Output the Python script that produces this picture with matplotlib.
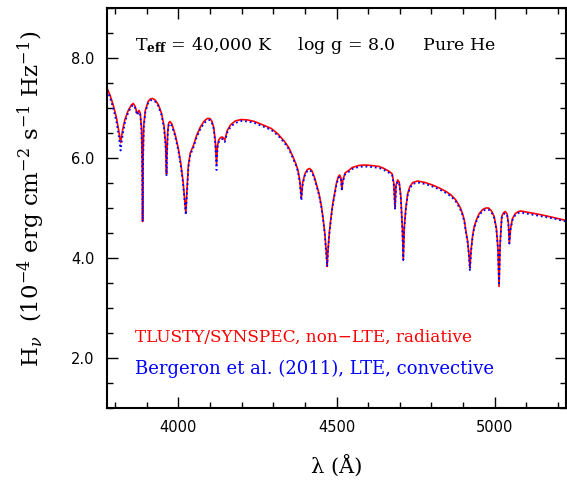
import matplotlib
matplotlib.use("Agg")
import matplotlib.pyplot as plt
from matplotlib.ticker import MultipleLocator

plt.rcParams['mathtext.fontset'] = 'dejavuserif'

wave = [3775, 3785, 3795, 3805, 3812, 3818, 3824, 3832, 3842, 3852, 3858, 3864, 3870, 3876, 3880, 3884, 3886, 3887.5, 3889, 3891,
        3896, 3905, 3912, 3919, 3927, 3937, 3947, 3955, 3960, 3963, 3965, 3967, 3970, 3974, 3980, 3990, 4000, 4008, 4015, 4020,
        4024, 4028, 4032, 4038, 4042, 4048, 4058, 4070, 4082, 4092, 4100, 4106, 4112, 4117, 4121, 4124, 4128, 4134, 4140, 4147,
        4155, 4165, 4180, 4199, 4220, 4241, 4268, 4294, 4315, 4336, 4350, 4362, 4372, 4378, 4384, 4389, 4393, 4400, 4408, 4415,
        4422, 4430, 4436, 4445, 4452, 4457, 4463, 4468, 4470.5, 4473, 4478, 4483, 4488, 4494, 4500, 4506, 4510, 4514, 4517, 4520,
        4527, 4536, 4550, 4570, 4590, 4610, 4635, 4650, 4667, 4676, 4681, 4685, 4688, 4693, 4698, 4703, 4708, 4711, 4714, 4719,
        4725, 4732, 4741, 4756, 4780, 4803, 4825, 4846, 4862, 4877, 4890, 4898, 4904, 4909, 4914, 4918, 4921.5, 4925, 4930, 4935,
        4943, 4951, 4962, 4972, 4980, 4990, 4998, 5005, 5010, 5013.5, 5017, 5022, 5027, 5033, 5039, 5043, 5046, 5050, 5056, 5065,
        5075, 5082, 5100, 5125, 5150, 5185, 5225]

flux_tlusty = [7.40, 7.25, 7.05, 6.80, 6.55, 6.31, 6.55, 6.78, 6.95, 7.06, 7.09, 7.03, 6.89, 6.95, 6.90, 6.60, 6.00, 4.73, 6.00, 6.65,
               6.95, 7.13, 7.18, 7.19, 7.16, 7.07, 6.90, 6.65, 6.30, 5.68, 6.20, 6.55, 6.70, 6.73, 6.68, 6.48, 6.20, 5.90, 5.55, 5.20,
               4.90, 5.40, 5.85, 6.10, 6.16, 6.25, 6.45, 6.62, 6.74, 6.79, 6.79, 6.74, 6.62, 6.35, 5.88, 6.25, 6.36, 6.41, 6.42, 6.36,
               6.55, 6.66, 6.74, 6.77, 6.76, 6.73, 6.66, 6.59, 6.48, 6.33, 6.20, 6.03, 5.88, 5.76, 5.55, 5.20, 5.50, 5.68, 5.77, 5.79,
               5.75, 5.62, 5.49, 5.28, 5.05, 4.83, 4.50, 4.10, 3.83, 4.15, 4.55, 4.83, 5.08, 5.29, 5.50, 5.63, 5.66, 5.60, 5.37, 5.55,
               5.70, 5.74, 5.81, 5.85, 5.86, 5.85, 5.83, 5.79, 5.73, 5.68, 5.50, 4.99, 5.45, 5.56, 5.52, 5.25, 4.60, 3.96, 4.60, 5.00,
               5.29, 5.43, 5.51, 5.54, 5.51, 5.46, 5.40, 5.33, 5.26, 5.16, 5.02, 4.89, 4.75, 4.53, 4.35, 4.10, 3.80, 4.15, 4.45, 4.63,
               4.78, 4.89, 4.97, 5.00, 5.00, 4.94, 4.83, 4.60, 4.20, 3.43, 4.30, 4.83, 4.90, 4.93, 4.88, 4.70, 4.29, 4.60, 4.79, 4.89,
               4.93, 4.94, 4.92, 4.89, 4.86, 4.81, 4.75]

flux_bergeron = [7.36, 7.20, 6.99, 6.72, 6.45, 6.15, 6.45, 6.72, 6.91, 7.03, 7.06, 7.00, 6.86, 6.92, 6.87, 6.55, 5.95, 4.73, 5.95, 6.60,
                 6.91, 7.10, 7.15, 7.16, 7.13, 7.04, 6.86, 6.60, 6.25, 5.64, 6.15, 6.50, 6.66, 6.69, 6.64, 6.44, 6.16, 5.85, 5.50, 5.15,
                 4.86, 5.35, 5.80, 6.06, 6.12, 6.21, 6.41, 6.58, 6.70, 6.75, 6.76, 6.71, 6.58, 6.30, 5.76, 6.20, 6.32, 6.37, 6.38, 6.32,
                 6.51, 6.62, 6.70, 6.74, 6.73, 6.70, 6.63, 6.56, 6.45, 6.30, 6.17, 6.00, 5.85, 5.73, 5.51, 5.15, 5.46, 5.65, 5.74, 5.76,
                 5.72, 5.59, 5.46, 5.25, 5.02, 4.80, 4.47, 4.06, 3.83, 4.12, 4.52, 4.80, 5.05, 5.26, 5.47, 5.60, 5.63, 5.57, 5.34, 5.52,
                 5.67, 5.71, 5.78, 5.82, 5.83, 5.82, 5.80, 5.76, 5.70, 5.65, 5.46, 4.97, 5.42, 5.53, 5.49, 5.22, 4.57, 3.96, 4.57, 4.97,
                 5.26, 5.40, 5.48, 5.51, 5.48, 5.43, 5.37, 5.30, 5.23, 5.13, 4.99, 4.86, 4.72, 4.50, 4.32, 4.07, 3.74, 4.12, 4.42, 4.60,
                 4.75, 4.86, 4.94, 4.97, 4.97, 4.91, 4.80, 4.57, 4.17, 3.45, 4.27, 4.80, 4.87, 4.90, 4.85, 4.67, 4.29, 4.57, 4.76, 4.86,
                 4.90, 4.91, 4.89, 4.86, 4.83, 4.79, 4.73]

label_tlusty = "TLUSTY/SYNSPEC, non\u2212LTE, radiative"
label_bergeron = "Bergeron et al. (2011), LTE, convective"
title_text = r"T$_{\mathbf{eff}}$ = 40,000 K     log g = 8.0     Pure He"

fig = plt.figure(figsize=(5.67, 4.84), dpi=100)
ax = fig.add_axes([107/567, 76/484, 459/567, 400/484])

ax.plot(wave, flux_tlusty, color='red', lw=1.2, solid_joinstyle='round')
ax.plot(wave, flux_bergeron, color='blue', lw=1.3, linestyle=(0, (1, 1.6)))

ax.set_xlim(3775, 5225)
ax.set_ylim(1.0, 9.0)
ax.xaxis.set_major_locator(MultipleLocator(500))
ax.xaxis.set_minor_locator(MultipleLocator(100))
ax.yaxis.set_major_locator(MultipleLocator(2.0))
ax.yaxis.set_minor_locator(MultipleLocator(0.5))
ax.yaxis.set_major_formatter(matplotlib.ticker.FormatStrFormatter('%.1f'))
ax.tick_params(which='both', direction='in', top=True, right=True, width=1.0)
ax.tick_params(which='major', length=8, labelsize=10.5, pad=9)
ax.tick_params(which='minor', length=4)
for s in ax.spines.values():
    s.set_linewidth(1.5)

ax.set_xlabel("\u03bb (\u00c5)", family='DejaVu Serif', fontsize=15, labelpad=14)
ax.set_ylabel(r"H$_\nu$  (10$^{-4}$ erg cm$^{-2}$ s$^{-1}$ Hz$^{-1}$)", family='DejaVu Serif', fontsize=16.5)
ax.yaxis.set_label_coords(-0.13, 0.5225)

ax.text(0.061, 0.9075, title_text, transform=ax.transAxes, family='DejaVu Serif', fontsize=12.5, va='center', ha='left')
ax.text(0.061, 0.1775, label_tlusty, transform=ax.transAxes, family='DejaVu Serif', fontsize=12.2, color='red', va='center', ha='left')
ax.text(0.061, 0.0975, label_bergeron, transform=ax.transAxes, family='DejaVu Serif', fontsize=13.0, color='blue', va='center', ha='left')

fig.savefig("out.png", dpi=100)
